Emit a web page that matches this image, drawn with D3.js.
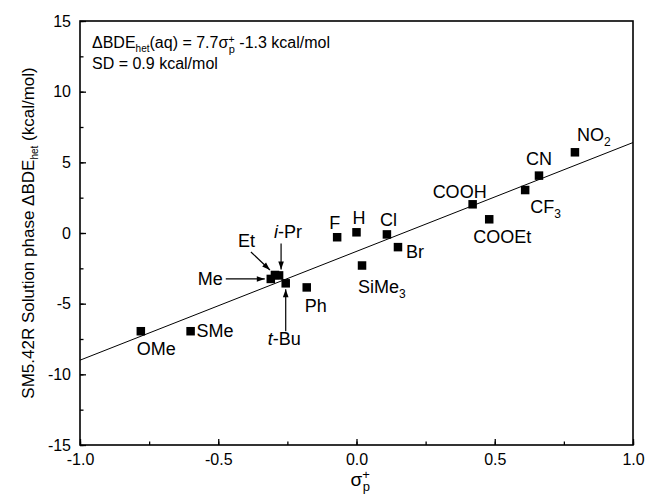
<!DOCTYPE html>
<html>
<head>
<meta charset="utf-8">
<script src="https://cdn.jsdelivr.net/npm/d3@7"></script>
<style>
  body { margin: 0; background: #fff; }
  text, tspan { font-family: Arial, "Liberation Sans", sans-serif; fill: #000; }
</style>
</head>
<body>
<div id="the_chart"></div>
<script>
// substituent, sigma_p+ and solution phase dBDE_het (kcal/mol)
var subs = ["OMe", "SMe", "Me", "Et", "i-Pr", "t-Bu", "Ph", "F", "H", "SiMe3", "Cl", "Br", "COOH", "COOEt", "CF3", "CN", "NO2"];
var sigma = [-0.78, -0.60, -0.31, -0.295, -0.28, -0.256, -0.18, -0.07, 0.00, 0.02, 0.11, 0.15, 0.42, 0.48, 0.61, 0.66, 0.79];
var bde = [-6.95, -6.95, -3.25, -2.97, -3.0, -3.56, -3.85, -0.3, 0.05, -2.3, -0.1, -1.0, 2.03, 0.97, 3.04, 4.06, 5.71];

// fit from the figure annotation
var fitSlope = 7.7, fitIntercept = -1.3;

var xTicks = [-1.0, -0.5, 0.0, 0.5, 1.0];
var yTicks = [-15, -10, -5, 0, 5, 10, 15];

// label offsets (px) from each point, and arrows for the crowded ones
var labelPos = {
  "OMe": [-4, 24], "SMe": [6, 6], "Me": [-48, 6, "end"], "Et": [-37, -28], "i-Pr": [-5, -37],
  "t-Bu": [-18, 62], "Ph": [-2, 25], "F": [-8, -8], "H": [-4, -8], "SiMe3": [-4, 27],
  "Cl": [-7, -8], "Br": [8, 11], "COOH": [-40, -6], "COOEt": [-16, 24], "CF3": [5, 23],
  "CN": [-13, -11], "NO2": [2, -11]
};
var arrows = {
  "Me": [[-45, 0], [-6, 0]],
  "Et": [[-24, -23], [-5, -5]],
  "i-Pr": [[2, -32], [2, -6]],
  "t-Bu": [[0, 48], [0, 6]]
};

var w = 647, h = 494;
var pLeft = 80, pRight = 633, pTop = 21, pBottom = 445;

var svg = d3.select("#the_chart").append("svg")
  .attr("width", w)
  .attr("height", h);

var defs = svg.append("defs");
defs.append("marker")
  .attr("id", "arr")
  .attr("viewBox", "0 0 10 10")
  .attr("refX", 10).attr("refY", 5)
  .attr("markerWidth", 10).attr("markerHeight", 8)
  .attr("markerUnits", "userSpaceOnUse")
  .attr("orient", "auto")
  .append("path")
  .attr("d", "M0,1.5L10,5L0,8.5Z")
  .attr("fill", "#000");

var xscale = d3.scaleLinear().domain([-1, 1]).range([pLeft, pRight]);
var yscale = d3.scaleLinear().domain([-15, 15]).range([pBottom, pTop]);

// minor ticks
var xminor = d3.range(-1, 1.001, 0.25);
var yminor = d3.range(-15, 15.001, 2.5);

svg.append("g")
  .attr("transform", "translate(0," + pBottom + ")")
  .call(d3.axisBottom(xscale).tickValues(xminor).tickSize(-3.5).tickFormat(""))
  .call(g => g.select(".domain").remove());

svg.append("g")
  .attr("transform", "translate(" + pLeft + ",0)")
  .call(d3.axisLeft(yscale).tickValues(yminor).tickSize(-3.5).tickFormat(""))
  .call(g => g.select(".domain").remove());

var xaxis = svg.append("g")
  .attr("transform", "translate(0," + pBottom + ")")
  .call(d3.axisBottom(xscale).tickValues(xTicks).tickSize(-6).tickPadding(9)
    .tickFormat(function (d) { return d.toFixed(1); }));
xaxis.select(".domain").remove();

var yaxis = svg.append("g")
  .attr("transform", "translate(" + pLeft + ",0)")
  .call(d3.axisLeft(yscale).tickValues(yTicks).tickSize(-6).tickPadding(9)
    .tickFormat(function (d) { return String(d); }));
yaxis.select(".domain").remove();

svg.selectAll(".tick line").attr("stroke", "#000").attr("stroke-width", 1.3);
svg.selectAll(".tick text").attr("font-size", 16).attr("font-family", "Arial, 'Liberation Sans', sans-serif").attr("fill", "#000");

// frame
svg.append("rect")
  .attr("x", pLeft).attr("y", pTop)
  .attr("width", pRight - pLeft).attr("height", pBottom - pTop)
  .attr("fill", "none")
  .attr("stroke", "#000")
  .attr("stroke-width", 1.6);

// fit line
svg.append("line")
  .attr("x1", xscale(-1)).attr("y1", yscale(fitSlope * -1 + fitIntercept))
  .attr("x2", xscale(1)).attr("y2", yscale(fitSlope * 1 + fitIntercept))
  .attr("stroke", "#000")
  .attr("stroke-width", 1);

var data = subs.map(function (s, i) { return { name: s, x: sigma[i], y: bde[i] }; });

// points
var sq = 8.5;
svg.selectAll("rect.pt")
  .data(data)
  .enter().append("rect")
  .attr("class", "pt")
  .attr("x", function (d) { return xscale(d.x) - sq / 2; })
  .attr("y", function (d) { return yscale(d.y) - sq / 2; })
  .attr("width", sq)
  .attr("height", sq)
  .attr("fill", "#000");

// arrows
data.filter(function (d) { return arrows[d.name]; }).forEach(function (d) {
  var a = arrows[d.name];
  var px = xscale(d.x), py = yscale(d.y);
  svg.append("line")
    .attr("x1", px + a[0][0]).attr("y1", py + a[0][1])
    .attr("x2", px + a[1][0]).attr("y2", py + a[1][1])
    .attr("stroke", "#000")
    .attr("stroke-width", 1.2)
    .attr("marker-end", "url(#arr)");
});

// labels
function writeLabel(t, name) {
  var m = name.match(/^([it])-(.*)$/);
  if (m) {
    t.append("tspan").attr("font-style", "italic").text(m[1]);
    t.append("tspan").text("-" + m[2]);
    return;
  }
  var s = name.match(/^(.*?)(\d)$/);
  if (s) {
    t.append("tspan").text(s[1]);
    t.append("tspan").attr("font-size", 12).attr("dy", 5).text(s[2]);
    return;
  }
  t.text(name);
}

data.forEach(function (d) {
  var p = labelPos[d.name];
  var t = svg.append("text")
    .attr("x", xscale(d.x) + p[0])
    .attr("y", yscale(d.y) + p[1])
    .attr("font-size", 18)
    .attr("text-anchor", p[2] || "start");
  writeLabel(t, d.name);
});

// equation annotation
var eq = svg.append("text")
  .attr("x", 92).attr("y", 48)
  .attr("font-size", 16);
eq.append("tspan").text("\u0394BDE");
eq.append("tspan").attr("font-size", 10).attr("dy", 4).text("het");
eq.append("tspan").attr("dy", -4).text("(aq) = 7.7\u03c3");
eq.append("tspan").attr("font-size", 11).attr("dy", -5).text("+");
eq.append("tspan").attr("font-size", 11).attr("dx", -6).attr("dy", 10).text("p");
eq.append("tspan").attr("dy", -5).text(" -1.3 kcal/mol");

svg.append("text")
  .attr("x", 92).attr("y", 69)
  .attr("font-size", 16)
  .text("SD = 0.9 kcal/mol");

// axis titles
var xt = svg.append("text")
  .attr("x", xscale(0) - 6).attr("y", 486)
  .attr("font-size", 19);
xt.append("tspan").text("\u03c3");
xt.append("tspan").attr("font-size", 13).attr("dy", -7).text("+");
xt.append("tspan").attr("font-size", 13).attr("dx", -7).attr("dy", 12).text("p");

var yt = svg.append("text")
  .attr("transform", "translate(34," + ((pTop + pBottom) / 2) + ") rotate(-90)")
  .attr("text-anchor", "middle")
  .attr("font-size", 17);
yt.append("tspan").text("SM5.42R Solution phase \u0394BDE");
yt.append("tspan").attr("font-size", 10).attr("dy", 4).text("het");
yt.append("tspan").attr("dy", -4).text(" (kcal/mol)");
</script>
</body>
</html>
